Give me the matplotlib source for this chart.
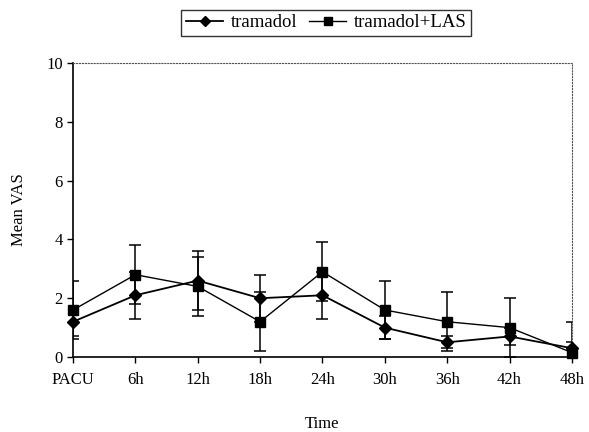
import numpy as np
import matplotlib
matplotlib.use('Agg')
import matplotlib.pyplot as plt
from matplotlib.lines import Line2D

plt.rcParams['font.family'] = 'Liberation Serif'

# data
times = ['PACU', '6h', '12h', '18h', '24h', '30h', '36h', '42h', '48h']
tramadol = [1.2, 2.1, 2.6, 2.0, 2.1, 1.0, 0.5, 0.7, 0.3]
tramadol_err = [0.5, 0.8, 1.0, 0.8, 0.8, 0.4, 0.2, 0.3, 0.9]
tramadol_las = [1.6, 2.8, 2.4, 1.2, 2.9, 1.6, 1.2, 1.0, 0.15]
tramadol_las_err = [1.0, 1.0, 1.0, 1.0, 1.0, 1.0, 1.0, 1.0, 0.35]

x = np.arange(len(times))

fig = plt.figure(figsize=(5.89, 4.32), dpi=100)
ax = fig.add_axes([0.124, 0.1736, 0.847, 0.6804])

# error bars (clipped at the axis), then lines+markers on top
ax.errorbar(x, tramadol, yerr=tramadol_err, fmt='none', ecolor='black',
            elinewidth=1.1, capsize=4, capthick=1.1, zorder=2)
ax.errorbar(x, tramadol_las, yerr=tramadol_las_err, fmt='none', ecolor='black',
            elinewidth=1.1, capsize=4, capthick=1.1, zorder=2)
ax.plot(x, tramadol, color='black', marker='D', markersize=6, linewidth=1.3,
        clip_on=False, zorder=3)
ax.plot(x, tramadol_las, color='black', marker='s', markersize=6.5, linewidth=1.0,
        clip_on=False, zorder=3)

ax.set_xlim(0, 8)
ax.set_ylim(0, 10)
ax.set_xticks(x)
ax.set_xticklabels(times)
ax.set_yticks(range(0, 11, 2))
ax.tick_params(labelsize=12, length=4, width=1)
ax.tick_params(axis='x', pad=7)

ax.spines['top'].set_linestyle(':')
ax.spines['right'].set_linestyle(':')
ax.spines['top'].set_color('#555555')
ax.spines['right'].set_color('#555555')
ax.spines['left'].set_linewidth(1.2)
ax.spines['bottom'].set_linewidth(1.2)

ax.set_xlabel('Time', fontsize=12, labelpad=20)
ax.set_ylabel('Mean VAS', fontsize=12, labelpad=14)

handles = [Line2D([], [], color='black', marker='D', markersize=5, linewidth=1.3),
           Line2D([], [], color='black', marker='s', markersize=5.5, linewidth=1.0)]
leg = fig.legend(handles, ['tramadol', 'tramadol+LAS'], loc='center',
                 bbox_to_anchor=(0.554, 0.947), ncol=2, fontsize=13.5,
                 frameon=True, fancybox=False, edgecolor='black', handlelength=2.0,
                 borderpad=0.25, columnspacing=0.6, handletextpad=0.4)
leg.get_frame().set_linewidth(1.0)

fig.savefig('out.png', dpi=100)
